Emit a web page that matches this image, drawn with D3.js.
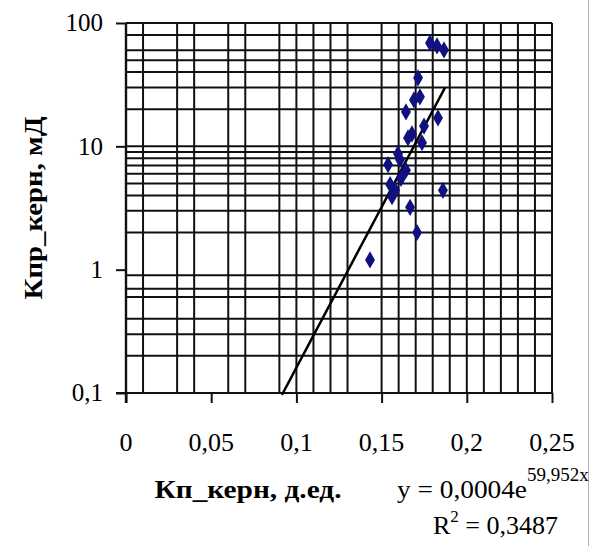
<!DOCTYPE html>
<html>
<head>
<meta charset="utf-8">
<script src="https://cdn.jsdelivr.net/npm/d3@7"></script>
<style>
  html, body { margin: 0; padding: 0; background: #fff; }
  svg { display: block; }
  text { font-family: "Liberation Serif", "Times New Roman", serif; fill: #000; }
</style>
</head>
<body>
<svg id="chart" width="591" height="546"></svg>
<script>
// ---- data ----
const kpCore  = [0.1784, 0.1825, 0.1866, 0.1714, 0.1725, 0.1690, 0.1643, 0.1831, 0.1749, 0.1678, 0.1655, 0.1737,
                 0.1596, 0.1608, 0.1538, 0.1643, 0.1614, 0.1550, 0.1579, 0.1561, 0.1860, 0.1667, 0.1708, 0.1432];
const kprCore = [69.0, 65.2, 60.5, 35.9, 25.2, 23.8, 19.0, 17.0, 14.6, 12.6, 11.7, 10.7,
                 8.7, 7.8, 7.1, 6.4, 5.5, 4.9, 4.4, 3.9, 4.4, 3.2, 2.0, 1.2];
const xTicks = [0, 0.05, 0.1, 0.15, 0.2, 0.25];
const xTickLabels = ["0", "0,05", "0,1", "0,15", "0,2", "0,25"];
const yTicks = [0.1, 1, 10, 100];
const yTickLabels = ["0,1", "1", "10", "100"];
// grid lines as they appear in the picture
const xGrid = [0.01, 0.03, 0.04, 0.06, 0.07, 0.09, 0.10, 0.11, 0.12, 0.13,
               0.15, 0.16, 0.17, 0.18, 0.19, 0.20, 0.21, 0.22, 0.23, 0.24, 0.25];
const yGrid = [0.2, 0.3, 0.4, 0.6, 0.7, 0.9, 2, 3, 4, 5, 6, 7, 8, 9, 10, 20, 30, 40, 50, 60, 80, 100];
// trend: y = 0,0004 e^(59,952 x)
const trendA = 0.0004, trendK = 59.952;
const trendX = [0.0915, 0.1872];
const xTitle = "Кп_керн, д.ед.";
const yTitle = "Кпр_керн, мД";
const eqMain = "y = 0,0004e";
const eqExp = "59,952x";
const r2Text = "= 0,3487";

// ---- drawing ----
const svg = d3.select("#chart");
const L = 126, R = 552, T = 23, B = 393;
const x = d3.scaleLinear().domain([0, 0.25]).range([L, R]);
const y = d3.scaleLog().domain([0.1, 100]).range([B, T]);

// outer frame line at right
svg.append("line").attr("x1", 588.5).attr("x2", 588.5).attr("y1", 0).attr("y2", 546)
  .attr("stroke", "#b0b0b0").attr("stroke-width", 1);

const grid = svg.append("g").attr("stroke", "#111").attr("stroke-width", 2);
grid.selectAll(".vg").data(xGrid).join("line")
  .attr("x1", d => x(d)).attr("x2", d => x(d)).attr("y1", T).attr("y2", B);
grid.selectAll(".hg").data(yGrid).join("line")
  .attr("x1", L).attr("x2", R).attr("y1", d => y(d)).attr("y2", d => y(d));

// axes
const xAxis = d3.axisBottom(x).tickValues(xTicks).tickSize(10).tickFormat("");
const gx = svg.append("g").attr("transform", `translate(0,${B})`).call(xAxis);
gx.select(".domain").attr("stroke", "#111").attr("stroke-width", 2.2).attr("d", `M${L - 10},0H${R}`);
gx.selectAll(".tick line").attr("stroke", "#111").attr("stroke-width", 2);

const yAxis = d3.axisLeft(y).tickValues(yTicks).tickSize(10).tickFormat("");
const gy = svg.append("g").attr("transform", `translate(${L},0)`).call(yAxis);
gy.select(".domain").attr("stroke", "#111").attr("stroke-width", 2.4).attr("d", `M0,${T}V${B + 10}`);
gy.selectAll(".tick line").attr("stroke", "#111").attr("stroke-width", 2);

// tick labels
svg.append("g").selectAll("text").data(xTicks).join("text")
  .attr("x", d => x(d)).attr("y", 451).attr("text-anchor", "middle")
  .attr("font-size", 26).text((d, i) => xTickLabels[i]);
svg.append("g").selectAll("text").data(yTicks).join("text")
  .attr("x", 103).attr("y", d => y(d)).attr("dy", "0.33em").attr("text-anchor", "end")
  .attr("font-size", 25).text((d, i) => yTickLabels[i]);

// trend line
const tx = d3.range(0, 41).map(i => trendX[0] + (trendX[1] - trendX[0]) * i / 40);
svg.append("path").datum(tx)
  .attr("fill", "none").attr("stroke", "#000").attr("stroke-width", 2.5)
  .attr("d", d3.line().x(d => x(d)).y(d => y(trendA * Math.exp(trendK * d))));

// points
const pts = kpCore.map((v, i) => [v, kprCore[i]]);
svg.append("g").selectAll("path").data(pts).join("path")
  .attr("transform", d => `translate(${x(d[0])},${y(d[1])})`)
  .attr("d", d3.symbol().type(d3.symbolDiamond).size(85))
  .attr("fill", "#101080");

// axis titles
svg.append("text").attr("x", 248).attr("y", 498).attr("text-anchor", "middle")
  .attr("font-size", 25).attr("font-weight", "bold")
  .attr("textLength", 187).attr("lengthAdjust", "spacingAndGlyphs").text(xTitle);
svg.append("text").attr("transform", "translate(42,208) rotate(-90)").attr("text-anchor", "middle")
  .attr("font-size", 25).attr("font-weight", "bold")
  .attr("textLength", 183).attr("lengthAdjust", "spacingAndGlyphs").text(yTitle);

// equation
const eq = svg.append("text").attr("x", 397).attr("y", 498).attr("font-size", 26);
eq.append("tspan").attr("textLength", 130).attr("lengthAdjust", "spacingAndGlyphs").text(eqMain);
eq.append("tspan").attr("font-size", 19).attr("dy", -17).text(eqExp);
const r2 = svg.append("text").attr("x", 433).attr("y", 534).attr("font-size", 26);
r2.append("tspan").text("R");
r2.append("tspan").attr("font-size", 17).attr("dy", -12).text("2");
r2.append("tspan").attr("dy", 12).text(" " + r2Text);
</script>
</body>
</html>
